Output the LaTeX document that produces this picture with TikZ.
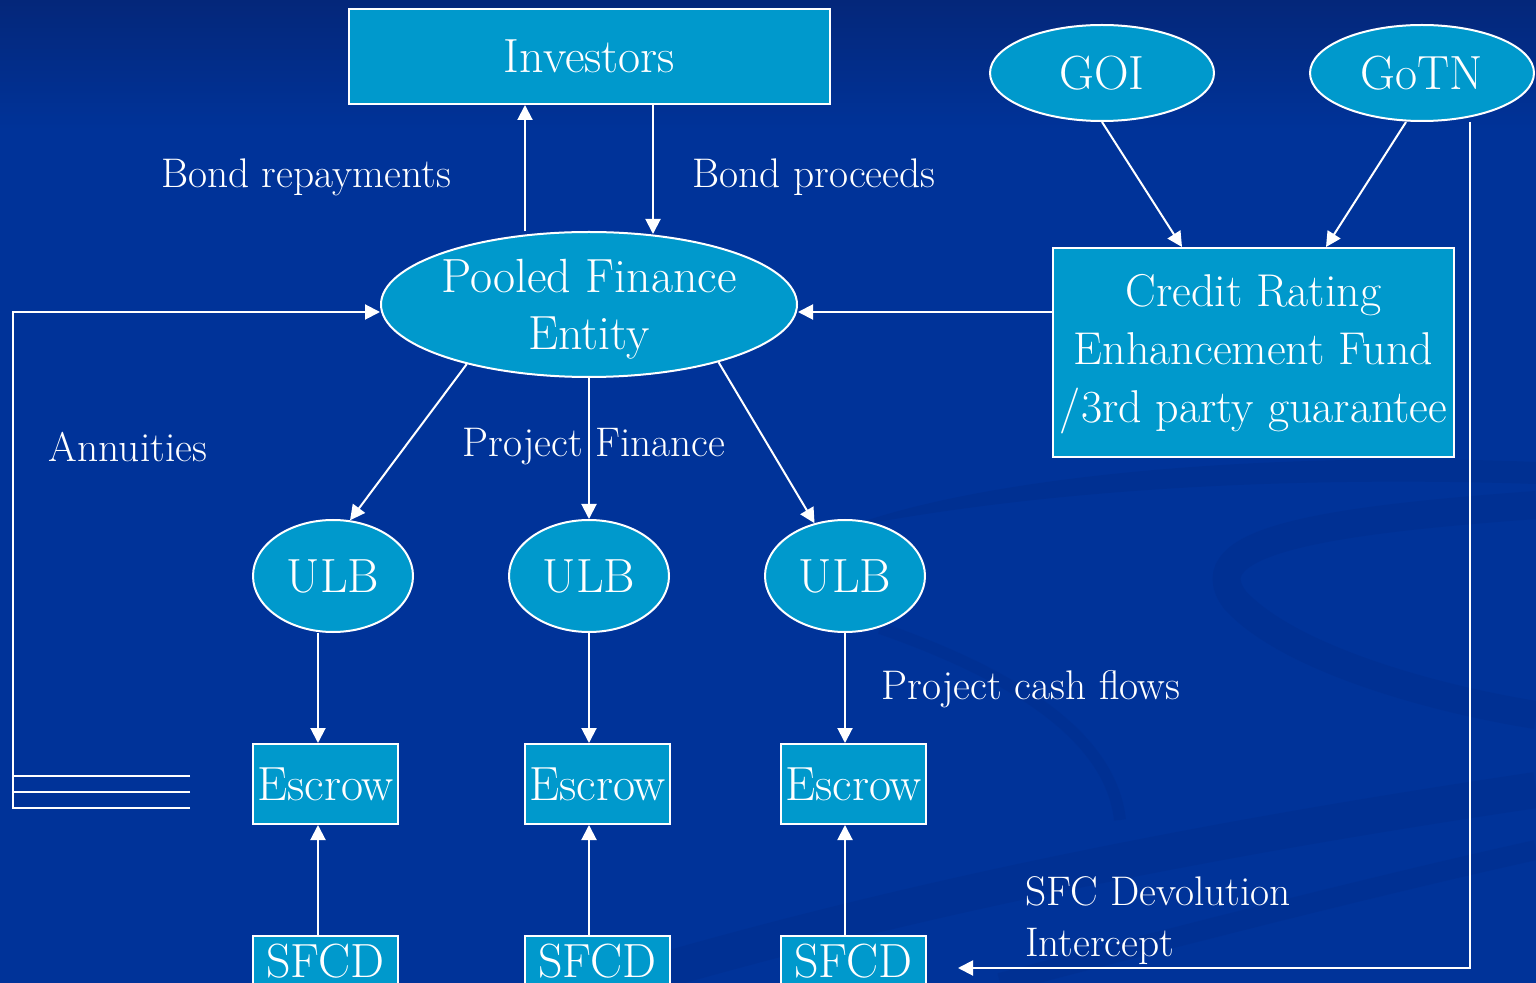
\documentclass[tikz,border=0pt]{standalone}
\usetikzlibrary{shapes.geometric,arrows.meta}
\definecolor{bgblue}{HTML}{003399}
\definecolor{topblue}{HTML}{04277A}
\definecolor{nodefill}{HTML}{0099CC}
\definecolor{swirl}{HTML}{002C88}
\begin{document}
\begin{tikzpicture}[x=0.5pt,y=-0.5pt,
  every node/.style={text=white},
  boxnode/.style={draw=white, line width=1pt, fill=nodefill, rectangle, inner sep=0pt},
  ovalnode/.style={draw=white, line width=1pt, fill=nodefill, ellipse, inner sep=0pt},
  big/.style={font=\fontsize{24}{29}\selectfont},
  lbl/.style={font=\fontsize{20.7}{25.5}\selectfont},
  conn/.style={draw=white, line width=1pt},
  arr/.style={conn, -{Triangle[width=7.5pt,length=7.5pt]}}]
\useasboundingbox (0,0) rectangle (1536,983);
\clip (0,0) rectangle (1536,983);
% background
\fill[bgblue] (0,0) rectangle (1536,983);
\shade[top color=topblue, bottom color=bgblue] (0,0) rectangle (1536,130);
% faint swirl
\fill[swirl, opacity=0.4] (845,528) .. controls (1000,470) and (1300,452) .. (1536,462) -- (1536,484) .. controls (1300,476) and (1050,488) .. (845,528) -- cycle;
\draw[swirl, line width=14pt, opacity=0.35] (1536,505) .. controls (1330,520) and (1190,540) .. (1235,600) .. controls (1290,660) and (1440,700) .. (1536,715);
\draw[swirl, line width=6pt, opacity=0.3] (880,628) .. controls (1000,670) and (1110,730) .. (1120,820);
\draw[swirl, line width=18pt, opacity=0.35] (620,983) .. controls (900,900) and (1200,840) .. (1536,790);
\draw[swirl, line width=10pt, opacity=0.3] (1000,983) .. controls (1200,930) and (1400,880) .. (1536,850);

% nodes
\node[boxnode, big, minimum width=240.5pt, minimum height=47.5pt] (inv) at (589.5,56.5) {Investors};
\node[ovalnode, big, minimum width=112pt, minimum height=48pt] (goi) at (1102,73) {GOI};
\node[ovalnode, big, minimum width=112pt, minimum height=48pt] (gotn) at (1422,73) {GoTN};
\node[boxnode, minimum width=200.5pt, minimum height=104.5pt,
  label={[font=\fontsize{23}{29}\selectfont, align=center, yshift=-1pt]center:{Credit Rating\\Enhancement Fund\\/3rd party guarantee}}] (cref) at (1253.5,352.5) {};
\node[ovalnode, minimum width=208pt, minimum height=72.5pt,
  label={[big, align=center, yshift=-2.5pt]center:{Pooled Finance\\[-0.5pt]Entity}}] (pfe) at (589,304.5) {};
\node[ovalnode, big, minimum width=80pt, minimum height=56pt] (ulb1) at (333,576) {ULB};
\node[ovalnode, big, minimum width=80pt, minimum height=56pt] (ulb2) at (589,576) {ULB};
\node[ovalnode, big, minimum width=80pt, minimum height=56pt] (ulb3) at (845,576) {ULB};
\node[boxnode, big, minimum width=72.5pt, minimum height=40pt] (esc1) at (325.5,784) {Escrow};
\node[boxnode, big, minimum width=72.5pt, minimum height=40pt] (esc2) at (597.5,784) {Escrow};
\node[boxnode, big, minimum width=72.5pt, minimum height=40pt] (esc3) at (853.5,784) {Escrow};
\node[boxnode, minimum width=72.5pt, minimum height=40pt] (sf1) at (325.5,976) {};
\node[boxnode, minimum width=72.5pt, minimum height=40pt] (sf2) at (597.5,976) {};
\node[boxnode, minimum width=72.5pt, minimum height=40pt] (sf3) at (853.5,976) {};
\node[big, anchor=base, inner sep=0pt] (sft1) at (325.5,977) {SFCD};
\node[big, anchor=base, inner sep=0pt] (sft2) at (597.5,977) {SFCD};
\node[big, anchor=base, inner sep=0pt] (sft3) at (853.5,977) {SFCD};

% labels
\node[lbl] (lrep) at (306,177) {Bond repayments};
\node[lbl] (lpro) at (814,177) {Bond proceeds};
\node[lbl] (lann) at (128,447) {Annuities};
\node[lbl] (lpf) at (594,447) {Project Finance};
\node[lbl] (lcf) at (1031,689) {Project cash flows};
\node[lbl, align=left, anchor=west] (lsfc) at (1018,921) {SFC Devolution\\Intercept};

% helper coordinates
\coordinate (xrep) at (525,0);
\coordinate (xpro) at (653,0);
\coordinate (xg1) at (1182,0);
\coordinate (xg2) at (1406,0);
\coordinate (xg3) at (1326,0);
\coordinate (xr) at (1470,0);
\coordinate (yl) at (0,312);
\coordinate (ya) at (0,968);
\coordinate (xl) at (13,0);
\coordinate (xc1) at (318,0);
\coordinate (xc2) at (589,0);
\coordinate (xc3) at (845,0);
\coordinate (sfin) at (958,968);
\coordinate (t1) at (13,776);
\coordinate (t2) at (13,792);
\coordinate (t3) at (13,808);
\coordinate (u1) at (190,776);
\coordinate (u2) at (190,792);
\coordinate (u3) at (190,808);

% connectors
\draw[arr] (pfe.north -| xrep) -- (inv.south -| xrep);
\draw[arr] (inv.south -| xpro) -- ([yshift=-1.5pt]pfe.north -| xpro);
\draw[arr] (goi.south) -- (cref.north -| xg1);
\draw[arr] (gotn.south -| xg2) -- (cref.north -| xg3);
\draw[arr] (cref.west |- yl) -- (pfe.east |- yl);
\draw[conn] (u1) -- (t1);
\draw[conn] (u2) -- (t2);
\draw[arr] (u3) -- (t3) -- (xl |- yl) -- (pfe.west |- yl);
\draw[arr] (pfe.206) -- (ulb1.73);
\draw[arr] (pfe.south) -- (ulb2.north);
\draw[arr] (pfe.336) -- (ulb3.120);
\draw[arr] (ulb1.south -| xc1) -- (esc1.north -| xc1);
\draw[arr] (ulb2.south -| xc2) -- (esc2.north -| xc2);
\draw[arr] (ulb3.south -| xc3) -- (esc3.north -| xc3);
\draw[arr] (sf1.north -| xc1) -- (esc1.south -| xc1);
\draw[arr] (sf2.north -| xc2) -- (esc2.south -| xc2);
\draw[arr] (sf3.north -| xc3) -- (esc3.south -| xc3);
\draw[arr] (gotn.south -| xr) -- (xr |- ya) -- (sfin);
\end{tikzpicture}
\end{document}
